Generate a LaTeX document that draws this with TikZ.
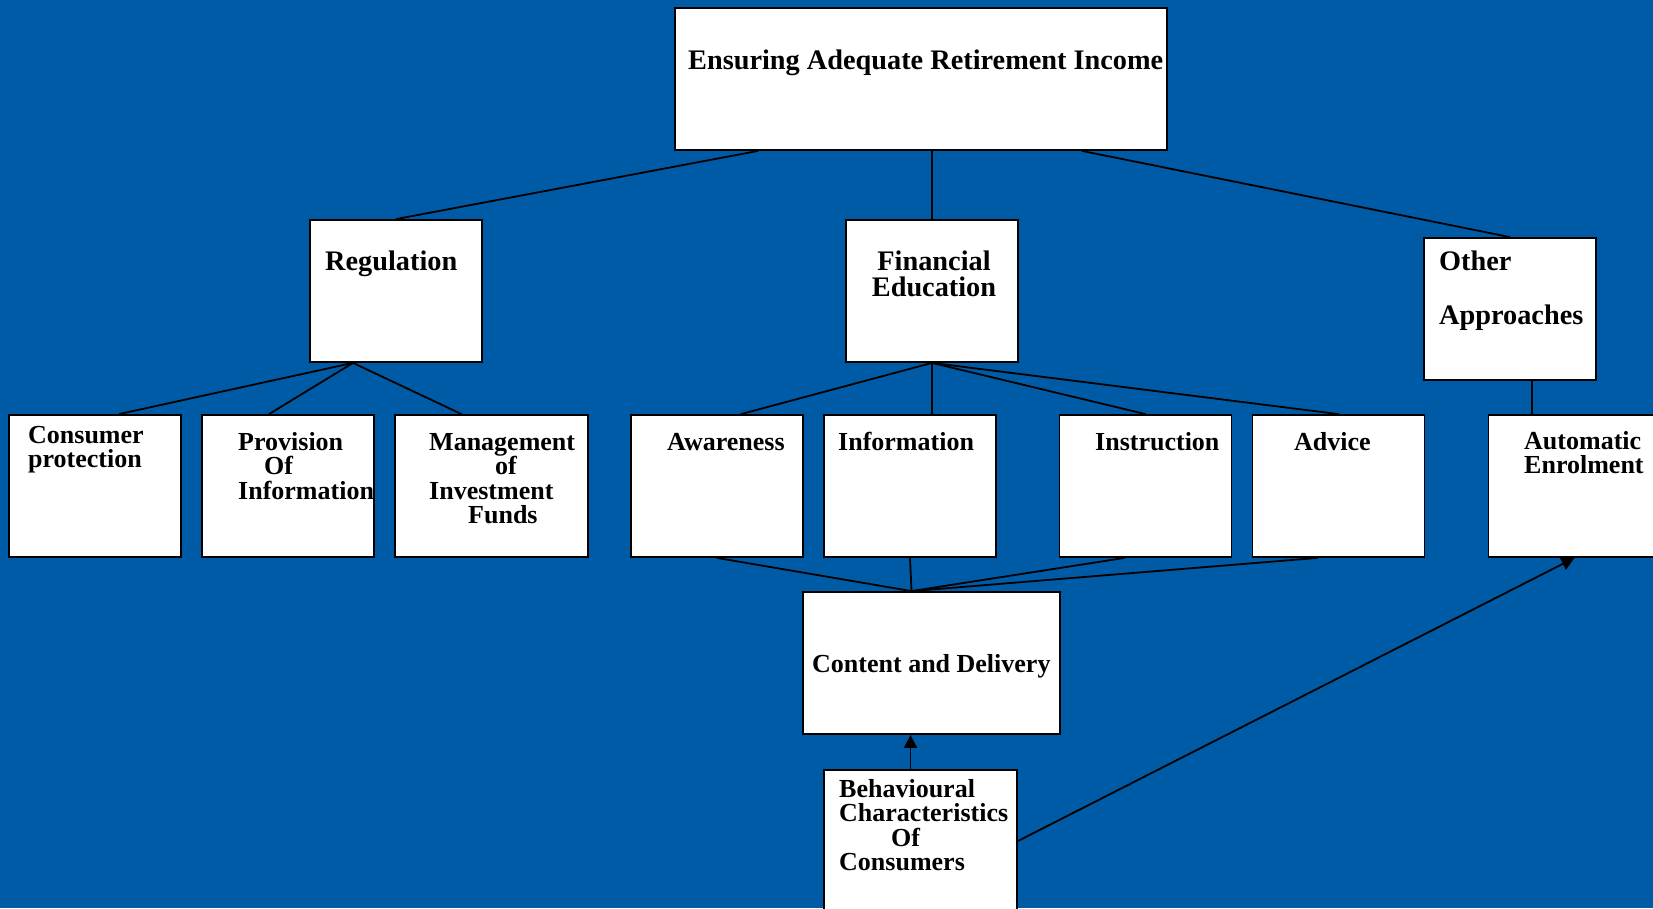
\documentclass[tikz,border=0pt]{standalone}
\usepackage{fontspec}
\setmainfont{Liberation Serif}
\usetikzlibrary{arrows.meta}
\definecolor{bgblue}{RGB}{0,91,166}
\begin{document}
\begin{tikzpicture}[x=1pt,y=-1pt,
  box/.style={draw=black,fill=white,line width=1.8pt,inner sep=0pt,minimum height=142pt,minimum width=172pt},
  lbl/.style={anchor=base west,inner sep=0pt,align=left,font=\bfseries\fontsize{26}{24.5}\selectfont},
  biglbl/.style={anchor=base west,inner sep=0pt,align=left,font=\bfseries\fontsize{28.3}{26}\selectfont},
  conn/.style={draw=black,line width=1.8pt},
  arr/.style={conn,-{Triangle[length=13pt,width=13pt]}}]
\fill[bgblue] (0,0) rectangle (1653,908);
\useasboundingbox (0,0) rectangle (1653,908);
\clip (0,0) rectangle (1653,908);
% boxes
\node[box,minimum width=492pt] (top) at (921,79) {};
\node[box] (reg) at (396,291) {};
\node[box] (fin) at (932,291) {};
\node[box] (oth) at (1510,309) {};
\node[box] (cons) at (95,486) {};
\node[box] (prov) at (288,486) {};
\node[box,minimum width=193pt] (mgmt) at (491.5,486) {};
\node[box] (aware) at (717,486) {};
\node[box] (info) at (910,486) {};
\node[box] (instr) at (1145.5,486) {};
\node[box] (adv) at (1338.5,486) {};
\node[box] (auto) at (1574.5,486) {};
\node[box,minimum width=257pt] (cont) at (931.5,663) {};
\node[box,minimum width=193pt] (behav) at (920.5,841) {};
% texts (multi-line nodes are anchored on the baseline of their last line)
\node[biglbl] (ttop) at (688,69) {Ensuring Adequate Retirement Income};
\node[biglbl] (treg) at (325,270) {Regulation};
\node[biglbl,align=center,anchor=base] (tfin) at (934,296) {Financial\\Education};
\node[biglbl,font=\bfseries\fontsize{28.3}{54}\selectfont] (toth) at (1439,324) {Other\\Approaches};
\node[lbl] (tcons) at (28,467.5) {Consumer\\protection};
\node[lbl] (tprov) at (238,499) {Provision\\\hspace*{26pt}Of\\Information};
\node[lbl] (tmgmt) at (429,523.5) {Management\\\hspace*{66pt}of\\Investment\\\hspace*{39pt}Funds};
\node[lbl] (taware) at (667,450) {Awareness};
\node[lbl] (tinfo) at (838,450) {Information};
\node[lbl] (tinstr) at (1095,450) {Instruction};
\node[lbl] (tadv) at (1294,450) {Advice};
\node[lbl] (tauto) at (1524,473.5) {Automatic\\Enrolment};
\node[lbl] (tcont) at (812,672) {Content and Delivery};
\node[lbl] (tbehav) at (839,870.5) {Behavioural\\Characteristics\\\hspace*{52pt}Of\\Consumers};
% connectors
\draw[conn] ([xshift=84pt]top.south west) -- (reg.north);
\draw[conn] (fin.north |- top.south) -- (fin.north);
\draw[conn] ([xshift=-86pt]top.south east) -- (oth.north);
\draw[conn] ([xshift=-43pt]reg.south) -- ([xshift=24pt]cons.north);
\draw[conn] ([xshift=-43pt]reg.south) -- ([xshift=-19pt]prov.north);
\draw[conn] ([xshift=-43pt]reg.south) -- ([xshift=-30pt]mgmt.north);
\draw[conn] (fin.south) -- ([xshift=24pt]aware.north);
\draw[conn] (fin.south) -- ([xshift=22pt]info.north);
\draw[conn] (fin.south) -- (instr.north);
\draw[conn] (fin.south) -- (adv.north);
\draw[conn] ([xshift=22pt]oth.south) -- ([xshift=22pt]oth.south |- auto.north);
\draw[conn] (aware.south) -- ([xshift=-20pt]cont.north);
\draw[conn] (info.south) -- ([xshift=-20pt]cont.north);
\draw[conn] ([xshift=-21pt]instr.south) -- ([xshift=-20pt]cont.north);
\draw[conn] ([xshift=-21pt]adv.south) -- ([xshift=-20pt]cont.north);
\draw[arr] ([xshift=-10pt]behav.north) -- ([xshift=-10pt]behav.north |- cont.south);
\draw[arr] (behav.east) -- (auto.south);
\end{tikzpicture}
\end{document}
